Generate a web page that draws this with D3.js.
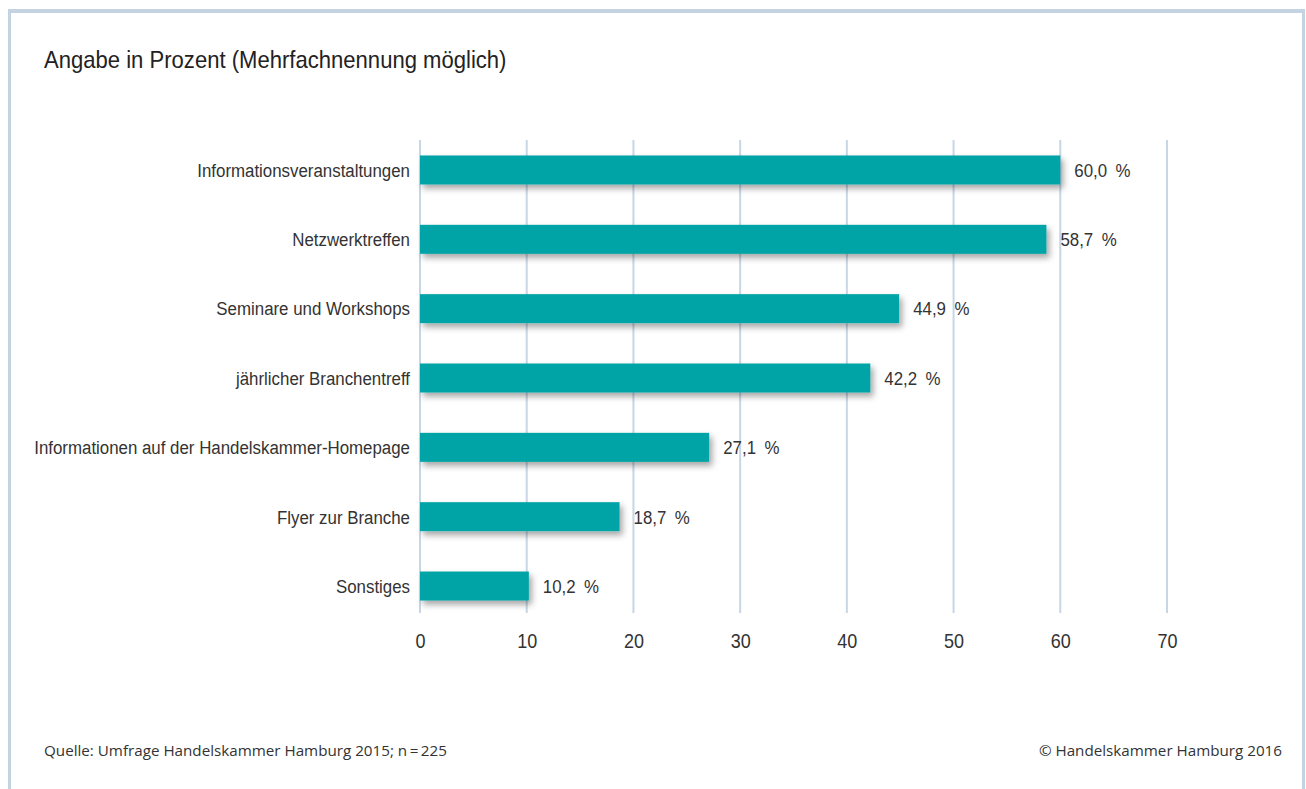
<!DOCTYPE html>
<html><head><meta charset="utf-8">
<script src="https://cdn.jsdelivr.net/npm/d3@7"></script>
<style>
body{margin:0;background:#fff;}
svg{display:block;}
</style></head>
<body>
<svg id="c" width="1306" height="789"></svg>
<script>
const categories = ["Informationsveranstaltungen","Netzwerktreffen","Seminare und Workshops","jährlicher Branchentreff","Informationen auf der Handelskammer-Homepage","Flyer zur Branche","Sonstiges"];
const values = [60.0, 58.7, 44.9, 42.2, 27.1, 18.7, 10.2];
const tickValues = [0,10,20,30,40,50,60,70];
const title = "Angabe in Prozent (Mehrfachnennung möglich)";
const source = "Quelle: Umfrage Handelskammer Hamburg 2015; n\u2009=\u2009225";
const copyright = "© Handelskammer Hamburg 2016";

const svg = d3.select("#c");
const narrow = "'Liberation Sans',Arial,sans-serif";
const sans = "'Open Sans','Noto Sans',sans-serif";
const SX = 0.888;

// frame
svg.append("rect").attr("x",9.5).attr("y",10.5).attr("width",1294).attr("height",800)
  .attr("fill","none").attr("stroke","#c3d3e2").attr("stroke-width",3);
svg.append("rect").attr("x",8).attr("y",9).attr("width",1297).attr("height",4).attr("fill","#c3d3e2");

const defs = svg.append("defs");
const f = defs.append("filter").attr("id","sh").attr("x","-10%").attr("y","-30%").attr("width","130%").attr("height","200%");
f.append("feDropShadow").attr("dx",3).attr("dy",4).attr("stdDeviation",3).attr("flood-color","#000").attr("flood-opacity",0.35);

const x = d3.scaleLinear().domain([0,70]).range([420,1167]);
const y = d3.scaleBand().domain(categories).range([135.3,620.7]).paddingInner(0.58).paddingOuter(0.29);
const cy = d => y(d)+y.bandwidth()/2;

// gridlines
svg.append("g").selectAll("line").data(tickValues).join("line")
  .attr("x1",d=>x(d)).attr("x2",d=>x(d)).attr("y1",140).attr("y2",613)
  .attr("stroke","#c8d6e6").attr("stroke-width",2);

// bars
svg.append("g").selectAll("rect").data(categories).join("rect")
  .attr("x",x(0)).attr("y",d=>cy(d)-14.5).attr("height",29)
  .attr("width",(d,i)=>x(values[i])-x(0))
  .attr("fill","#00a3a6").attr("filter","url(#sh)");

// category labels
svg.append("g").selectAll("text").data(categories).join("text")
  .attr("transform",d=>`translate(410,${cy(d)}) scale(${SX},1)`).attr("dy","0.36em")
  .attr("text-anchor","end").attr("font-family",narrow).attr("font-size",19).attr("fill","#333")
  .text(d=>d);

// value labels
svg.append("g").selectAll("text").data(categories).join("text")
  .attr("transform",(d,i)=>`translate(${x(values[i])+14},${cy(d)}) scale(${SX},1)`).attr("dy","0.36em")
  .attr("font-family",narrow).attr("font-size",19).attr("fill","#333")
  .text((d,i)=>d3.format(".1f")(values[i]).replace(".",",")+"\u2002%");

// x axis
const ax = svg.append("g").attr("transform","translate(0,622)")
  .call(d3.axisBottom(x).tickValues(tickValues).tickSize(0).tickPadding(12));
ax.select(".domain").remove();
ax.selectAll("text").attr("font-family",narrow).attr("font-size",20).attr("fill","#333")
  .attr("transform","scale(0.9,1)");

// title
svg.append("text").attr("transform",`translate(44,68) scale(0.92,1)`).attr("font-family",narrow).attr("font-size",24).attr("fill","#222").text(title);

// footer
svg.append("text").attr("x",44).attr("y",756).attr("font-family",sans).attr("font-size",15.2).attr("fill","#333").text(source);
svg.append("text").attr("x",1282).attr("y",756).attr("text-anchor","end").attr("font-family",sans).attr("font-size",15.2).attr("fill","#333").text(copyright);
</script>
</body></html>
